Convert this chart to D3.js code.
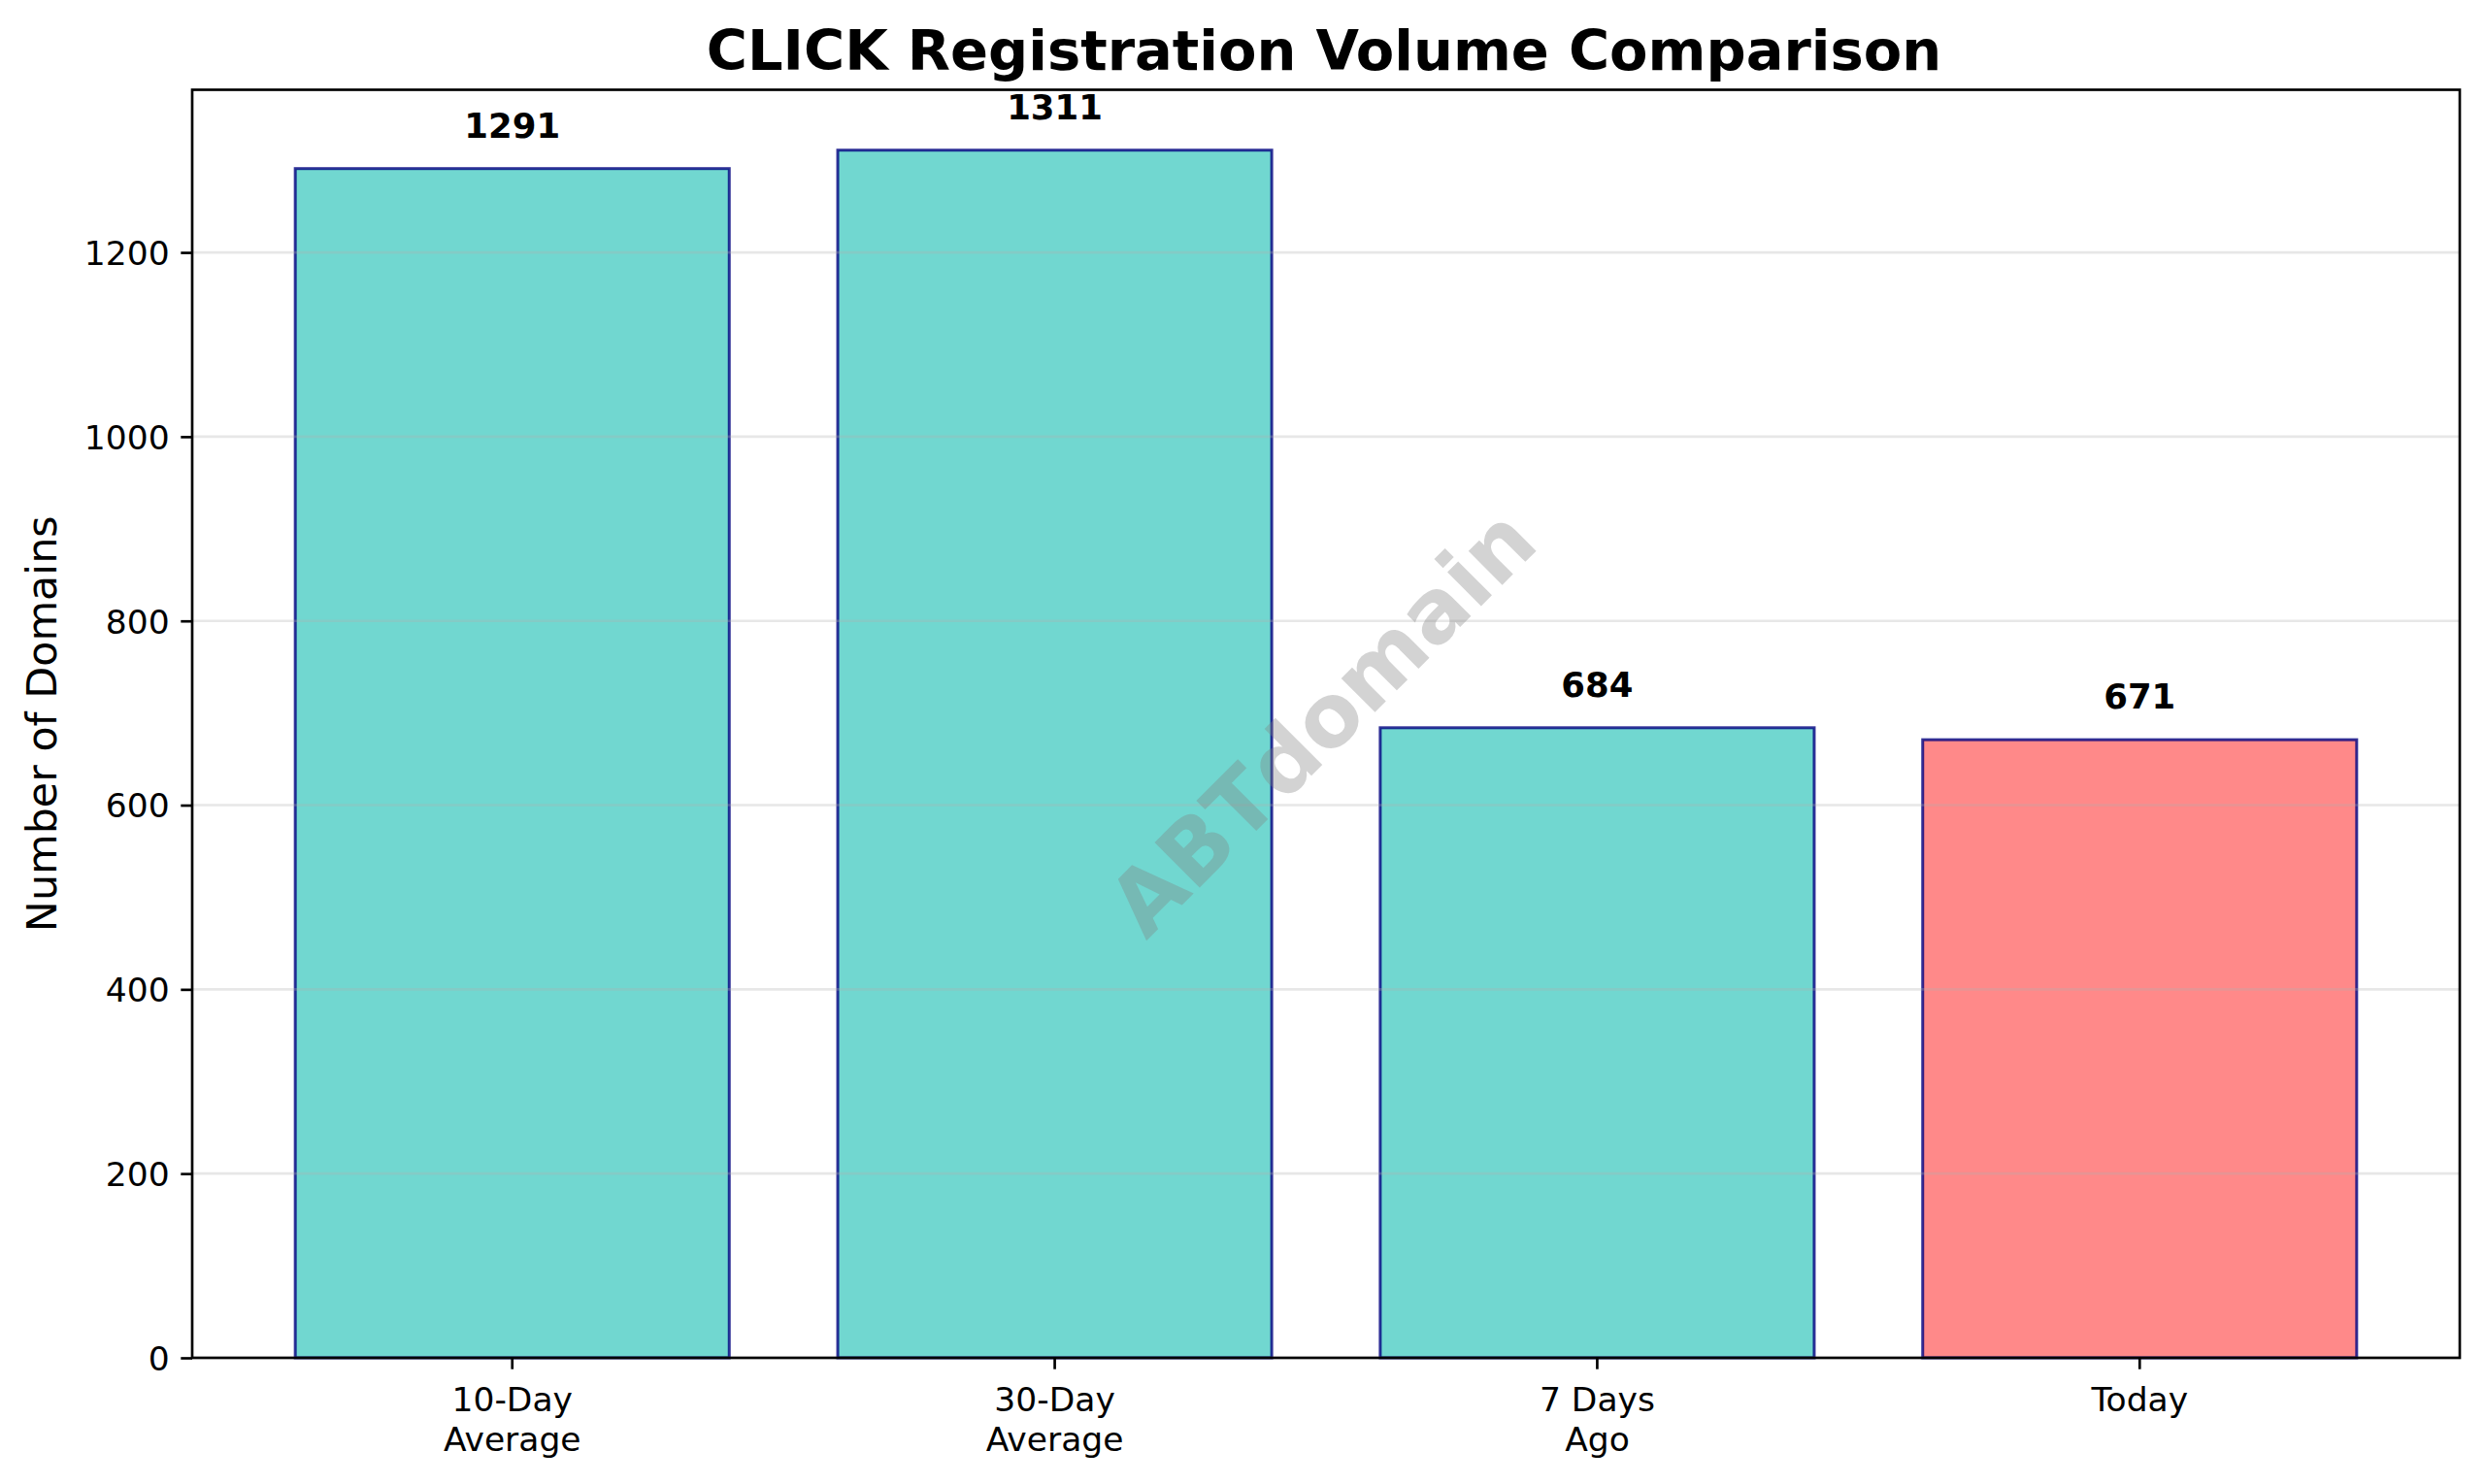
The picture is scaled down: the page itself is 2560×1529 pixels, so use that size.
<!DOCTYPE html>
<html>
<head>
<meta charset="utf-8">
<script src="https://cdn.jsdelivr.net/npm/d3@7"></script>
<style>
  html, body { margin: 0; padding: 0; background: #fff; }
  svg { display: block; }
  text { font-family: "DejaVu Sans", sans-serif; }
</style>
</head>
<body>
<script>
// ---- data ----
const categories = ["10-Day\nAverage", "30-Day\nAverage", "7 Days\nAgo", "Today"];
const values = [1291, 1311, 684, 671];
const barColors = ["#4ECDC4", "#4ECDC4", "#4ECDC4", "#FF6B6B"];
const yTicks = [0, 200, 400, 600, 800, 1000, 1200];
const titleText = "CLICK Registration Volume Comparison";
const yLabelText = "Number of Domains";
const watermarkText = "ABTdomain";

// ---- layout ----
const W = 2560, H = 1529;
const plot = { left: 198, right: 2534, top: 92.5, bottom: 1399 };
const lw = 2.67;

const svg = d3.select("body").append("svg")
  .attr("width", W).attr("height", H);

svg.append("rect").attr("width", W).attr("height", H).attr("fill", "#fff");

const x = d3.scaleBand()
  .domain(d3.range(categories.length))
  .range([plot.left, plot.right])
  .paddingInner(0.2)
  .paddingOuter(0.19);

const y = d3.scaleLinear()
  .domain([0, d3.max(values) * 1.05])
  .range([plot.bottom, plot.top]);

// bars
svg.append("g").selectAll("rect")
  .data(values)
  .join("rect")
  .attr("x", (d, i) => x(i))
  .attr("width", x.bandwidth())
  .attr("y", d => y(d))
  .attr("height", d => y(0) - y(d))
  .attr("fill", (d, i) => barColors[i])
  .attr("fill-opacity", 0.8)
  .attr("stroke", "#000080")
  .attr("stroke-opacity", 0.8)
  .attr("stroke-width", 3);

// grid (drawn over bars like matplotlib)
svg.append("g").selectAll("line")
  .data(yTicks)
  .join("line")
  .attr("x1", plot.left).attr("x2", plot.right)
  .attr("y1", d => y(d)).attr("y2", d => y(d))
  .attr("stroke", "#b0b0b0")
  .attr("stroke-opacity", 0.3)
  .attr("stroke-width", lw);

// value labels
svg.append("g").selectAll("text")
  .data(values)
  .join("text")
  .attr("x", (d, i) => x(i) + x.bandwidth() / 2)
  .attr("y", d => y(d) - 32)
  .attr("text-anchor", "middle")
  .attr("font-size", 35.5)
  .attr("font-weight", "bold")
  .attr("fill", "#000")
  .text(d => d);

// watermark
svg.append("text")
  .attr("transform", `translate(${(plot.left + plot.right) / 2 - 4},${(plot.top + plot.bottom) / 2 - 2}) rotate(-45)`)
  .attr("text-anchor", "middle")
  .attr("dominant-baseline", "central")
  .attr("font-size", 90)
  .attr("font-weight", "bold")
  .attr("fill", "#808080")
  .attr("fill-opacity", 0.35)
  .text(watermarkText);

// y axis
const yAxis = d3.axisLeft(y).tickValues(yTicks).tickSize(11.7).tickPadding(11.7).tickFormat(d3.format("d"));
const gy = svg.append("g").attr("transform", `translate(${plot.left},0)`).call(yAxis);
gy.select(".domain").remove();
gy.selectAll(".tick line").attr("stroke", "#000").attr("stroke-width", lw);
gy.selectAll(".tick text")
  .attr("font-size", 34.5)
  .attr("fill", "#000")
  .attr("dy", "0.36em");

// x axis
const xAxis = d3.axisBottom(x).tickSize(11.7).tickPadding(11.7).tickFormat(() => "");
const gx = svg.append("g").attr("transform", `translate(0,${plot.bottom})`).call(xAxis);
gx.select(".domain").remove();
gx.selectAll(".tick line").attr("stroke", "#000").attr("stroke-width", lw);
gx.selectAll(".tick text").remove();
gx.selectAll(".tick").each(function(d) {
  const lines = categories[d].split("\n");
  const t = d3.select(this).append("text")
    .attr("text-anchor", "middle")
    .attr("font-size", 34.5)
    .attr("fill", "#000");
  lines.forEach((ln, k) => {
    t.append("tspan").attr("x", 0).attr("y", 55 + k * 41).text(ln);
  });
});

// spines
svg.append("rect")
  .attr("x", plot.left).attr("y", plot.top)
  .attr("width", plot.right - plot.left)
  .attr("height", plot.bottom - plot.top)
  .attr("fill", "none")
  .attr("stroke", "#000")
  .attr("stroke-width", lw);

// y label
svg.append("text")
  .attr("transform", `translate(58,${(plot.top + plot.bottom) / 2}) rotate(-90)`)
  .attr("text-anchor", "middle")
  .attr("font-size", 42.8)
  .attr("fill", "#000")
  .text(yLabelText);

// title
svg.append("text")
  .attr("x", (plot.left + plot.right) / 2 - 2)
  .attr("y", 71.7)
  .attr("text-anchor", "middle")
  .attr("font-size", 57.5)
  .attr("font-weight", "bold")
  .attr("fill", "#000")
  .text(titleText);
</script>
</body>
</html>
